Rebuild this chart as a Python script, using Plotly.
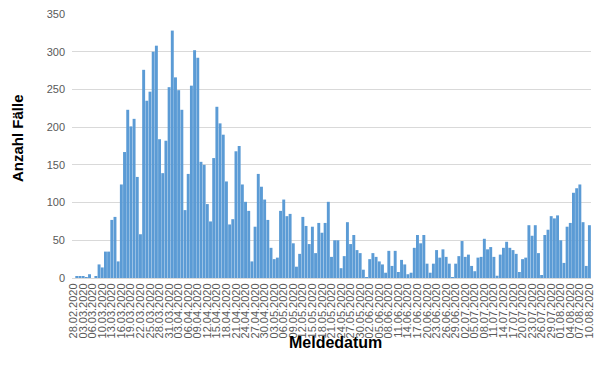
import pandas as pd
import plotly.graph_objects as go

# Category dates (daily reporting dates; two dates absent in the source data)
start_date = "2020-02-28"
end_date = "2020-08-10"
missing_dates = ["2020-03-01", "2020-03-08"]
all_days = pd.date_range(start_date, end_date, freq="D")
categories = [d.strftime("%d.%m.%Y") for d in all_days if d.strftime("%Y-%m-%d") not in missing_dates]

# Reported cases per day
cases = [
    0, 2, 2, 2, 1, 5, 0, 2, 18, 14,
    35, 35, 77, 81, 22, 124, 167, 223, 201, 211,
    134, 58, 276, 235, 247, 300, 308, 184, 139, 182,
    253, 328, 266, 249, 223, 90, 138, 255, 302, 292,
    154, 150, 98, 75, 159, 227, 205, 190, 128, 71,
    78, 168, 175, 124, 101, 89, 22, 68, 138, 121,
    104, 77, 40, 25, 27, 89, 104, 82, 85, 46,
    15, 32, 81, 69, 45, 68, 33, 73, 60, 73,
    101, 28, 50, 50, 13, 29, 74, 45, 57, 37,
    33, 11, 1, 25, 33, 28, 22, 18, 7, 36,
    16, 36, 8, 24, 18, 5, 7, 40, 57, 46,
    57, 19, 7, 19, 37, 27, 38, 28, 19, 1,
    19, 29, 49, 28, 31, 16, 9, 27, 28, 52,
    38, 41, 28, 3, 31, 40, 48, 40, 37, 32,
    8, 25, 27, 70, 56, 70, 33, 4, 57, 64,
    82, 79, 83, 50, 20, 68, 73, 113, 119, 124,
    74, 16, 70,
]

# Tick labels: every third category
tick_labels = categories[::3]

y_ticks = [0, 50, 100, 150, 200, 250, 300, 350]

fig = go.Figure(
    go.Bar(
        x=categories,
        y=cases,
        marker=dict(color="#5b9bd5", line=dict(width=0)),
        hoverinfo="x+y",
    )
)

font_family = "Liberation Sans, Arial, sans-serif"

fig.update_layout(
    width=605,
    height=380,
    margin=dict(l=72, r=14, t=14, b=102),
    paper_bgcolor="white",
    plot_bgcolor="white",
    bargap=0.08,
    showlegend=False,
    font=dict(family=font_family, color="#595959", size=11),
    xaxis=dict(
        type="category",
        categoryorder="array",
        categoryarray=categories,
        tickmode="array",
        tickvals=tick_labels,
        ticktext=tick_labels,
        tickangle=-90,
        tickfont=dict(size=11, color="#595959"),
        showgrid=False,
        showline=True,
        linecolor="#d9d9d9",
        linewidth=1,
        ticks="",
        automargin=False,
        range=[-0.5, len(categories) - 0.5],
    ),
    yaxis=dict(
        range=[0, 350],
        tickvals=y_ticks,
        tickfont=dict(size=11, color="#595959"),
        showgrid=True,
        gridcolor="#d9d9d9",
        gridwidth=1,
        zeroline=False,
        showline=False,
        ticks="",
        automargin=False,
        ticklabelstandoff=6,
    ),
    annotations=[
        dict(
            text="<b>Anzahl Fälle</b>",
            xref="paper", yref="paper",
            x=(17 - 72) / 519, y=(278 - 138) / 264,
            xanchor="center", yanchor="middle",
            textangle=-90, showarrow=False,
            font=dict(size=15, color="black", family=font_family),
        ),
        dict(
            text="<b>Meldedatum</b>",
            xref="paper", yref="paper",
            x=(335 - 72) / 519, y=(278 - 342) / 264,
            xanchor="center", yanchor="middle",
            showarrow=False,
            font=dict(size=16, color="black", family=font_family),
        ),
    ],
)

fig.write_html(
    "out.html",
    config={"displayModeBar": False},
    post_script="document.body.style.margin='0';document.body.style.overflow='hidden';",
)
